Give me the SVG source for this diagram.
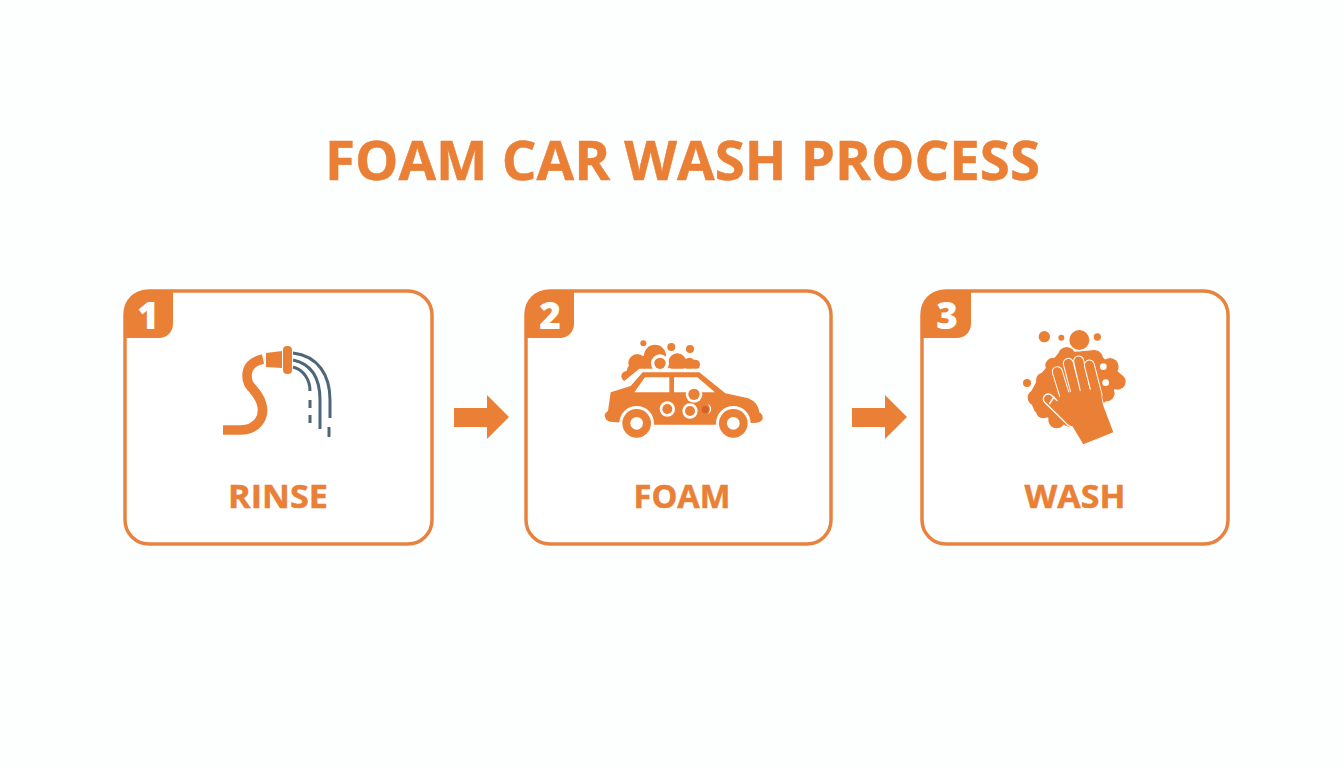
<svg xmlns="http://www.w3.org/2000/svg" width="1344" height="768" viewBox="0 0 1344 768">
<style>
.o{fill:#ea7f36}.w{fill:#fff}
.card{fill:#fff;stroke:#e8823f;stroke-width:3.5}
.t{font-family:"Open Sans","Noto Sans",sans-serif;font-weight:700;fill:#ea7f36;text-anchor:middle;stroke:#ea7f36;stroke-width:.5}
.lab{font-size:33px}
.num{font-family:"Open Sans","Noto Sans",sans-serif;font-weight:800;fill:#fff;text-anchor:middle;font-size:37px}
.hose{fill:none;stroke:#ea7f36;stroke-width:9.5}
.wat{fill:none;stroke:#4d6778;stroke-width:3}
</style>
<rect width="1344" height="768" fill="#fdfefe"/>
<text id="title" class="t" x="682.5" y="180" font-size="54" textLength="715" lengthAdjust="spacingAndGlyphs">FOAM CAR WASH PROCESS</text>
<g id="node-rinse">
<rect class="card" x="125" y="291" width="307" height="253" rx="24"/>
<path class="o" d="M124,338V312a22,22 0 0 1 22,-22H173V324a14,14 0 0 1 -14,14Z"/>
<text class="num" x="148" y="329">1</text>
<path class="hose" d="M223,430H240C258,430 266,416 261,402C256,388 247,388 247,376C247,366 254,361 263,359"/>
<path class="o" d="M266,353L282,351V368L266,367Z"/>
<rect class="o" x="283" y="346" width="9" height="28" rx="4"/>
<path class="wat" d="M293,353C318,356 330,375 330,400V418"/>
<path class="wat" d="M329,427V437"/>
<path class="wat" d="M293,360C312,364 320,378 320,400V429"/>
<path class="wat" d="M293,367C304,370 310,380 310,391"/>
<path class="wat" d="M310,400V408M310,415V423"/>
<text class="t lab" x="278" y="508" textLength="100" lengthAdjust="spacingAndGlyphs">RINSE</text>
</g>
<g id="node-foam">
<rect class="card" x="526" y="291" width="305" height="253" rx="24"/>
<path class="o" d="M525,338V312a22,22 0 0 1 22,-22H574V324a14,14 0 0 1 -14,14Z"/>
<text class="num" x="550" y="329">2</text>
<g transform="translate(600 335) scale(.3333)">
<g class="o">
<circle cx="130" cy="25" r="9"/><circle cx="214" cy="36" r="12"/><circle cx="270" cy="42" r="12"/>
<circle cx="80" cy="124" r="16"/><circle cx="112" cy="84" r="27"/><circle cx="165" cy="62" r="33"/><circle cx="140" cy="85" r="24"/><circle cx="100" cy="108" r="20"/>
<circle cx="232" cy="82" r="27"/><circle cx="268" cy="86" r="18"/><circle cx="286" cy="88" r="14"/>
<path d="M70,130L95,85L200,80L298,88V100H100Z"/>
</g>
<path class="w" d="M55,152L118,101H310V125L60,175Z"/>
<circle class="w" cx="180" cy="85" r="27"/><circle class="o" cx="180" cy="85" r="17"/>
<path class="o" d="M32,172L92,153L128,112H298L376,175L445,190Q475,203 478,232Q490,238 488,252Q484,262 470,263L340,269H150L30,260Q14,255 14,240Q16,232 24,228Z"/>
<path class="w" d="M103,172L135,127H208V172ZM222,127H292L345,172H222Z"/>
<circle class="w" cx="110" cy="265" r="52"/><circle class="w" cx="400" cy="265" r="52"/>
<circle class="o" cx="110" cy="265" r="43"/><circle class="w" cx="110" cy="265" r="19"/>
<circle class="o" cx="400" cy="265" r="43"/><circle class="w" cx="400" cy="265" r="19"/>
<circle class="w" cx="282" cy="178" r="25"/><circle class="o" cx="282" cy="178" r="17"/>
<circle class="w" cx="202" cy="222" r="23"/><circle class="o" cx="202" cy="222" r="15"/>
<circle class="w" cx="270" cy="228" r="23"/><circle class="o" cx="270" cy="228" r="15"/>
<circle cx="316" cy="224" r="11" fill="#d2642a"/>
<path class="w" d="M323,207A16,16 0 0 1 323,237A20,20 0 0 0 323,207Z"/>
</g>
<text class="t lab" x="682" y="508" textLength="97" lengthAdjust="spacingAndGlyphs">FOAM</text>
</g>
<g id="node-wash">
<rect class="card" x="922" y="291" width="306" height="253" rx="24"/>
<path class="o" d="M921,338V312a22,22 0 0 1 22,-22H971V324a14,14 0 0 1 -14,14Z"/>
<text class="num" x="947" y="329">3</text>
<g transform="translate(1015 325) scale(.3333)">
<g class="o">
<circle cx="88" cy="35" r="17"/><circle cx="139" cy="38" r="9"/><circle cx="247" cy="36" r="11"/><circle cx="36" cy="174" r="12"/>
<path d="M130,85L240,75L320,150L285,220L170,310L60,260L40,215L75,150Z"/>
<circle cx="155" cy="92" r="26"/><circle cx="115" cy="122" r="24"/><circle cx="85" cy="165" r="22"/><circle cx="62" cy="218" r="24"/><circle cx="85" cy="258" r="22"/><circle cx="125" cy="285" r="25"/>
<circle cx="240" cy="100" r="24"/><circle cx="285" cy="125" r="26"/><circle cx="308" cy="170" r="24"/><circle cx="275" cy="205" r="24"/>
</g>
<circle class="w" cx="193" cy="45" r="34"/><circle class="o" cx="193" cy="45" r="30"/>
<circle class="w" cx="265" cy="125" r="10"/><circle class="w" cx="272" cy="173" r="10"/>
<g fill="none" stroke-linecap="round">
<path stroke="#fff" stroke-width="34" d="M100,222L170,290"/><path stroke="#ea7f36" stroke-width="26" d="M100,222L170,290"/>
<path stroke="#fff" stroke-width="5" d="M104,236L116,217"/>
<path stroke="#fff" stroke-width="33" d="M150,215L127,140"/><path stroke="#ea7f36" stroke-width="27" d="M150,215L127,140"/>
<path stroke="#fff" stroke-width="33" d="M182,200L160,115"/><path stroke="#ea7f36" stroke-width="27" d="M182,200L160,115"/>
<path stroke="#fff" stroke-width="33" d="M212,200L191,108"/><path stroke="#ea7f36" stroke-width="27" d="M212,200L191,108"/>
<path stroke="#fff" stroke-width="33" d="M246,210L223,120"/><path stroke="#ea7f36" stroke-width="27" d="M246,210L223,120"/>
</g>
<path class="w" d="M136,218L258,205L267,238L298,325L205,362L160,300Z"/>
<path class="o" d="M140,205L255,190L264,240L295,322L205,358L170,300L125,232Z"/>
<path fill="none" stroke="#ea7f36" stroke-width="26" stroke-linecap="round" d="M160,280L170,290"/>
</g>
<text class="t lab" x="1075" y="508" textLength="101" lengthAdjust="spacingAndGlyphs">WASH</text>
</g>
<g id="connectors" class="o">
<path d="M454,408H487V395L509,417L487,439V427H454Z"/>
<path d="M852,408H885V395L907,417L885,439V427H852Z"/>
</g>
</svg>
